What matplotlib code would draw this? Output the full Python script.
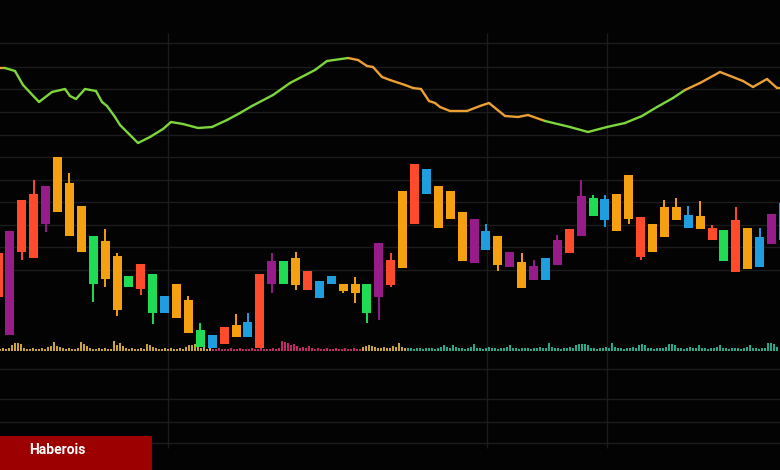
import matplotlib.pyplot as plt
from matplotlib.patches import Rectangle
from matplotlib.collections import LineCollection
import numpy as np

# candle data (price units, higher = up)
opens = [217, 239, 270, 276, 284, 313, 287, 264, 234, 229, 214, 194, 206, 196, 174, 186, 170,
         140, 135, 143, 145, 148, 196, 209, 209, 212, 199, 189, 194, 186, 186, 186, 227, 210,
         279, 306, 301, 284, 279, 258, 251, 239, 234, 218, 208, 204, 212, 230, 241, 274, 272,
         271, 276, 295, 253, 246, 263, 263, 255, 254, 242, 240, 250, 242, 233, 256, 267]
closes = [173, 135, 218, 212, 246, 258, 234, 218, 186, 191, 160, 183, 181, 157, 157, 152, 137,
          123, 122, 126, 133, 133, 122, 186, 186, 185, 180, 172, 186, 179, 177, 157, 173, 185,
          202, 246, 276, 242, 251, 209, 207, 220, 205, 203, 182, 190, 190, 205, 217, 234, 254,
          250, 239, 251, 213, 218, 233, 250, 242, 241, 230, 209, 198, 201, 203, 226, 230]
highs = [217, 239, 270, 290, 284, 313, 297, 264, 234, 241, 217, 194, 206, 196, 174, 186, 174,
         147, 135, 143, 156, 157, 196, 217, 209, 218, 199, 189, 194, 186, 193, 186, 227, 217,
         279, 306, 301, 284, 279, 258, 251, 246, 234, 218, 217, 210, 212, 235, 241, 290, 275,
         275, 276, 295, 253, 246, 270, 272, 264, 269, 245, 240, 263, 242, 242, 256, 267]
lows = [173, 135, 210, 212, 238, 258, 234, 218, 168, 183, 154, 183, 175, 146, 157, 152, 137,
        123, 122, 126, 133, 133, 122, 177, 186, 180, 180, 172, 186, 177, 167, 147, 150, 183,
        202, 246, 276, 242, 251, 209, 207, 220, 199, 203, 182, 190, 190, 205, 217, 234, 254,
        243, 239, 246, 210, 218, 233, 250, 242, 241, 230, 209, 198, 201, 203, 226, 230]
candle_colors = ['r', 'p', 'r', 'r', 'p', 'o', 'o', 'o', 'g', 'o', 'o', 'g', 'r', 'g', 'b', 'o', 'o',
                 'g', 'b', 'r', 'o', 'b', 'r', 'p', 'g', 'o', 'r', 'b', 'b', 'o', 'o', 'g', 'p', 'r',
                 'o', 'r', 'b', 'o', 'o', 'o', 'p', 'b', 'o', 'p', 'o', 'p', 'b', 'p', 'r', 'p', 'g',
                 'b', 'o', 'o', 'r', 'o', 'o', 'o', 'b', 'o', 'r', 'g', 'r', 'o', 'b', 'p', 'b']

# moving line on top
line_t = [0, 5, 15, 23, 39, 52, 65, 70, 76, 85, 96, 102, 107, 115, 120, 128, 138, 150, 163,
          171, 183, 198, 212, 227, 240, 252, 273, 290, 315, 327, 348, 358, 367, 373, 382, 390,
          405, 413, 421, 429, 435, 440, 450, 467, 480, 489, 505, 518, 528, 545, 570, 588, 607,
          625, 642, 657, 673, 685, 700, 720, 743, 753, 767, 777, 780]
line_v = [402, 402, 399, 385, 368, 378, 381, 374, 371, 381, 379, 368, 364, 353, 345, 337, 327,
          333, 341, 348, 346, 342, 343, 350, 357, 364, 375, 387, 400, 409, 412, 410, 404, 403,
          393, 390, 385, 382, 381, 369, 367, 363, 359, 359, 364, 367, 354, 353, 355, 349, 343,
          338, 343, 347, 354, 363, 372, 380, 387, 398, 389, 383, 391, 382, 382]

# volume
vol_gold1 = [2, 3, 2, 3, 6, 8, 8, 7, 3, 2, 2, 3, 2, 2, 3, 2, 4, 5, 9, 5, 4, 3, 2, 3, 2, 2, 3,
             9, 7, 5, 3, 2, 2, 3, 2, 3, 2, 2, 10, 6, 8, 5, 3, 2, 3, 2, 2, 3, 2, 7, 6, 4,
             3, 2, 2, 3, 2, 3, 2, 2, 3, 2, 4, 6, 6, 7, 5, 3, 4, 2, 3]
vol_pink = [2, 2, 3, 2, 2, 2, 3, 2, 2, 3, 2, 2, 2, 3, 2, 2, 3, 2, 2, 2, 3, 2, 3, 10, 9, 8, 6,
            7, 5, 3, 4, 3, 5, 3, 2, 3, 2, 2, 3, 2, 2, 3, 2, 2, 3, 2, 2, 3, 2, 2]
vol_gold2 = [4, 5, 6, 5, 4, 3, 3, 4, 3, 3, 5, 4, 8, 4, 3]
vol_teal = [3, 3, 2, 3, 3, 2, 3, 3, 3, 2, 3, 4, 6, 4, 3, 6, 4, 3, 3, 2,
            3, 4, 7, 3, 3, 2, 3, 4, 3, 3, 2, 3, 3, 4, 6, 3, 3, 2, 3, 3,
            3, 2, 3, 3, 4, 3, 3, 8, 4, 3, 3, 2, 3, 3, 4, 3, 6, 7, 7, 7,
            6, 3, 3, 2, 3, 3, 4, 3, 8, 4, 3, 3, 2, 3, 3, 4, 3, 6, 7, 6,
            3, 3, 2, 3, 3, 3, 4, 7, 7, 6, 3, 3, 2, 3, 4, 3, 3, 6, 3, 3,
            2, 3, 3, 4, 6, 3, 3, 2, 3, 3, 3, 2, 3, 4, 6, 3, 3, 2, 3, 3,
            8, 8, 7, 4]

grid_y = [427, 403, 381, 358, 335, 313, 290, 268, 245, 223, 200, 101, 71, 48, 27]
grid_x = [168, 487, 607]

palette = {'r': '#ff4a2c', 'o': '#f4a011', 'p': '#981b8a', 'g': '#20dc55', 'b': '#1e9ddf'}
bg = '#030303'

fig = plt.figure(figsize=(7.8, 4.7), dpi=100, facecolor=bg)
ax = fig.add_axes([0, 0, 1, 1])
ax.set_facecolor(bg)

# grid
for gy in grid_y:
    ax.axhline(gy, color='#1c1c1c', lw=1, zorder=0)
ax.vlines(grid_x, 22, 437, color='#1c1c1c', lw=1, zorder=0)

# volume bars
base = 119
segments = [(vol_gold1, 0, '#c9a43c'), (vol_pink, 213, '#bf2a66'),
            (vol_gold2, 363, '#c9a43c'), (vol_teal, 408, '#2aa88b')]
for vals, start, col in segments:
    xs = start + 3 * np.arange(len(vals))
    ax.bar(xs, vals, bottom=base, width=2.2, color=col, zorder=1)

# candles
x = -2 + 11.9 * np.arange(len(opens))
cols = [palette[c] for c in candle_colors]
lo = np.minimum(opens, closes)
hi = np.maximum(opens, closes)
ax.vlines(x, lows, highs, colors=cols, lw=1.4, zorder=2)
ax.bar(x, hi - lo, bottom=lo, width=9, color=cols, zorder=3)

# line with green / orange sections
pts = np.column_stack([line_t, line_v])
segs = np.stack([pts[:-1], pts[1:]], axis=1)
seg_cols = []
for a, b in zip(line_t[:-1], line_t[1:]):
    m = (a + b) / 2
    green = (5 <= m <= 343) or (540 <= m <= 685)
    seg_cols.append('#7dd63b' if green else '#eba034')
lc = LineCollection(segs, colors=seg_cols, linewidths=1.7, zorder=4, capstyle='round')
ax.add_collection(lc)

ax.set_xlim(0, 780)
ax.set_ylim(0, 470)
ax.axis('off')

# label box
fig.patches.append(Rectangle((0, 0), 152 / 780, 34 / 470, transform=fig.transFigure,
                             facecolor='#9c0000', edgecolor='none', zorder=5))
fig.text(29 / 780, 20 / 470, 'Haberois', color='white', fontsize=10, fontweight='bold',
         family=['Roboto', 'DejaVu Sans'], ha='left', va='center', zorder=6)

fig.savefig('out.png', dpi=100, facecolor=bg)
